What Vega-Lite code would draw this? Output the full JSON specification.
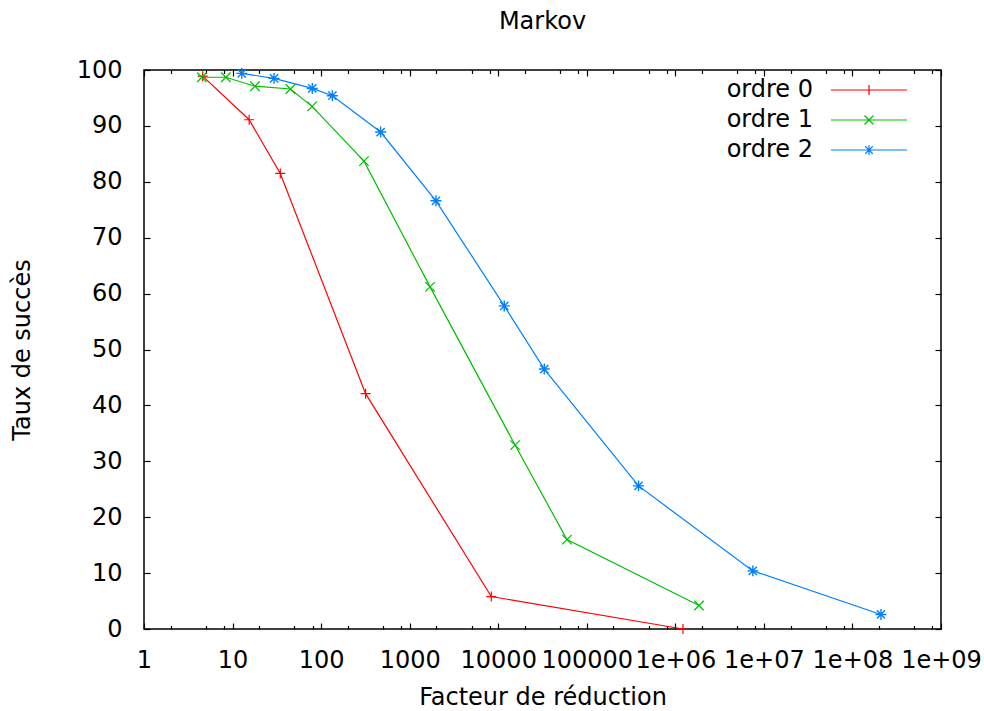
{
  "$schema": "https://vega.github.io/schema/vega-lite/v6.json",
  "width": 797,
  "height": 559,
  "autosize": "none",
  "padding": {"left": 144, "top": 70, "right": 43, "bottom": 82},
  "background": "white",
  "title": {"text": "Markov", "font": "DejaVu Sans", "fontSize": 24, "fontWeight": "normal", "color": "black", "frame": "group", "anchor": "middle", "offset": 24},
  "data": {"values": [
    {"s": "ordre 0", "x": 4.6, "y": 98.9},
    {"s": "ordre 0", "x": 15.4, "y": 91.1},
    {"s": "ordre 0", "x": 34.6, "y": 81.5},
    {"s": "ordre 0", "x": 318, "y": 42.1},
    {"s": "ordre 0", "x": 8350, "y": 5.8},
    {"s": "ordre 0", "x": 1220000, "y": 0},
    {"s": "ordre 1", "x": 4.5, "y": 98.7},
    {"s": "ordre 1", "x": 8.4, "y": 98.7},
    {"s": "ordre 1", "x": 17.9, "y": 97.1},
    {"s": "ordre 1", "x": 45, "y": 96.6},
    {"s": "ordre 1", "x": 79, "y": 93.5},
    {"s": "ordre 1", "x": 305, "y": 83.7},
    {"s": "ordre 1", "x": 1700, "y": 61.2},
    {"s": "ordre 1", "x": 15500, "y": 32.9},
    {"s": "ordre 1", "x": 59700, "y": 16.0},
    {"s": "ordre 1", "x": 1850000, "y": 4.2},
    {"s": "ordre 2", "x": 12.7, "y": 99.4},
    {"s": "ordre 2", "x": 29.4, "y": 98.5},
    {"s": "ordre 2", "x": 79.5, "y": 96.7},
    {"s": "ordre 2", "x": 134, "y": 95.4},
    {"s": "ordre 2", "x": 470, "y": 88.9},
    {"s": "ordre 2", "x": 1980, "y": 76.6},
    {"s": "ordre 2", "x": 11700, "y": 57.8},
    {"s": "ordre 2", "x": 33100, "y": 46.5},
    {"s": "ordre 2", "x": 384000, "y": 25.6},
    {"s": "ordre 2", "x": 7500000, "y": 10.4},
    {"s": "ordre 2", "x": 210000000, "y": 2.6}
  ]},
  "resolve": {"axis": {"x": "independent", "y": "independent"}},
  "layer": [
    {
      "mark": {"type": "line", "strokeWidth": 1.2, "clip": false},
      "encoding": {
        "x": {"field": "x", "type": "quantitative",
          "scale": {"type": "log", "domain": [1, 1000000000], "nice": false},
          "axis": {"orient": "bottom", "values": [1, 10, 100, 1000, 10000, 100000, 1000000, 10000000, 100000000, 1000000000],
            "tickSize": -6, "labelPadding": 25, "labelOverlap": false, "labelFlush": false, "labelBound": false,
            "labelExpr": "datum.value < 1000000 ? format(datum.value, 'd') : '1e+0' + round(log(datum.value) / LN10)",
            "title": "Facteur de réduction", "titlePadding": 13}},
        "y": {"field": "y", "type": "quantitative",
          "scale": {"domain": [0, 100], "nice": false},
          "axis": {"orient": "left", "values": [0, 10, 20, 30, 40, 50, 60, 70, 80, 90, 100],
            "tickSize": -6, "labelPadding": 28, "title": "Taux de succès", "titlePadding": 42}},
        "color": {"field": "s", "type": "nominal",
          "scale": {"domain": ["ordre 0", "ordre 1", "ordre 2"], "range": ["#ff0000", "#00c000", "#0080ff"]},
          "legend": {"orient": "none", "legendX": 713, "legendY": 8, "title": null,
            "labelFont": "DejaVu Sans", "labelFontSize": 24, "labelColor": "black",
            "labelAlign": "right", "labelOffset": -68, "rowPadding": 6,
            "symbolSize": 100, "symbolStrokeWidth": 1.2,
            "encode": {"symbols": {"update": {
              "shape": {"signal": "datum.value == 'ordre 0' ? 'M-7.6,0L7.6,0M0,-1L0,1' : datum.value == 'ordre 1' ? 'M-7.6,0L7.6,0M-0.9,-0.9L0.9,0.9M-0.9,0.9L0.9,-0.9' : 'M-7.6,0L7.6,0M0,-1L0,1M-0.75,-0.75L0.75,0.75M-0.75,0.75L0.75,-0.75'"},
              "fill": {"value": "transparent"},
              "stroke": {"signal": "datum.value == 'ordre 0' ? '#ff0000' : datum.value == 'ordre 1' ? '#00c000' : '#0080ff'"},
              "strokeWidth": {"value": 1.2},
              "opacity": {"value": 1}
            }}}}},
        "detail": {"field": "s"}
      }
    },
    {
      "transform": [{"filter": "datum.s == 'ordre 0'"}],
      "mark": {"type": "point", "filled": false, "strokeWidth": 1.2, "size": 100, "opacity": 1, "clip": false,
        "shape": "M-1,0L1,0M0,-1L0,1"},
      "encoding": {
        "x": {"field": "x", "type": "quantitative",
          "axis": {"orient": "bottom", "values": [2, 5, 8, 20, 50, 80, 200, 500, 800, 2000, 5000, 8000, 20000, 50000, 80000, 200000, 500000, 800000, 2000000, 5000000, 8000000, 20000000, 50000000, 80000000, 200000000, 500000000, 800000000],
            "tickSize": -3.5, "labels": false, "title": null}},
        "y": {"field": "y", "type": "quantitative",
          "axis": {"orient": "right", "values": [0, 10, 20, 30, 40, 50, 60, 70, 80, 90, 100],
            "tickSize": -6, "labels": false, "title": null}},
        "color": {"field": "s", "type": "nominal"}
      }
    },
    {
      "transform": [{"filter": "datum.s == 'ordre 1'"}],
      "mark": {"type": "point", "filled": false, "strokeWidth": 1.2, "size": 90, "opacity": 1, "clip": false,
        "shape": "M-1,-1L1,1M-1,1L1,-1"},
      "encoding": {
        "x": {"field": "x", "type": "quantitative",
          "axis": {"orient": "top", "values": [1, 10, 100, 1000, 10000, 100000, 1000000, 10000000, 100000000, 1000000000],
            "tickSize": -6, "labels": false, "title": null}},
        "y": {"field": "y", "type": "quantitative", "axis": null},
        "color": {"field": "s", "type": "nominal"}
      }
    },
    {
      "transform": [{"filter": "datum.s == 'ordre 2'"}],
      "mark": {"type": "point", "filled": false, "strokeWidth": 1.4, "size": 120, "opacity": 1, "clip": false,
        "shape": "M-1,0L1,0M0,-1L0,1M-0.75,-0.75L0.75,0.75M-0.75,0.75L0.75,-0.75"},
      "encoding": {
        "x": {"field": "x", "type": "quantitative",
          "axis": {"orient": "top", "values": [2, 5, 8, 20, 50, 80, 200, 500, 800, 2000, 5000, 8000, 20000, 50000, 80000, 200000, 500000, 800000, 2000000, 5000000, 8000000, 20000000, 50000000, 80000000, 200000000, 500000000, 800000000],
            "tickSize": -3.5, "labels": false, "title": null}},
        "y": {"field": "y", "type": "quantitative", "axis": null},
        "color": {"field": "s", "type": "nominal"}
      }
    }
  ],
  "config": {
    "view": {"stroke": "black", "strokeWidth": 1.5},
    "axis": {"domain": false, "grid": false, "tickColor": "black", "tickWidth": 1.2,
      "labelFont": "DejaVu Sans", "labelFontSize": 24, "labelColor": "black",
      "titleFont": "DejaVu Sans", "titleFontSize": 24, "titleFontWeight": "normal", "titleColor": "black"},
    "legend": {"labelLimit": 0}
  }
}
